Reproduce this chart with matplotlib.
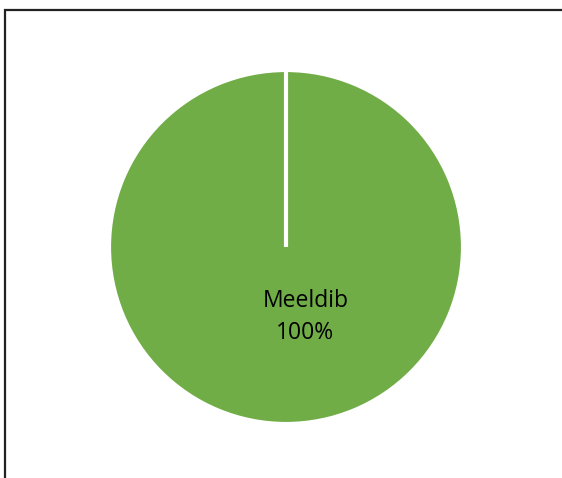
import matplotlib
matplotlib.use('Agg')
from matplotlib import pyplot as plt
from matplotlib.patches import Rectangle

labels = ['Meeldib', 'Ei meeldi']
values = [100, 0]
colors = ['#70AD47', '#ED7D31']

W, H = 562, 478
fig = plt.figure(figsize=(W / 100, H / 100), dpi=100)
ax = fig.add_axes([0, 0, 1, 1])
ax.set_xlim(0, W)
ax.set_ylim(0, H)
ax.axis('off')

cx, cy, r = 286, H - 247, 177
ax.pie(values, colors=colors, center=(cx, cy), radius=r,
       startangle=90, counterclock=False,
       wedgeprops=dict(edgecolor='white', linewidth=3))
ax.set_xlim(0, W)
ax.set_ylim(0, H)
ax.set_aspect('auto')

pct = values[0] / sum(values) * 100
ax.text(cx + 0.11 * r, cy - 0.395 * r, f'{labels[0]}\n{pct:.0f}%',
        ha='center', va='center', fontsize=16.5, linespacing=1.45,
        family=['Open Sans', 'DejaVu Sans'], color='#000000')

# rama ümber
fig.add_artist(Rectangle((5 / W, -0.1), 1.2, 1.1 - 10.5 / H + 0.0,
                         transform=fig.transFigure, fill=False,
                         edgecolor='#222222', linewidth=1.6))

fig.savefig('out.png', dpi=100)
